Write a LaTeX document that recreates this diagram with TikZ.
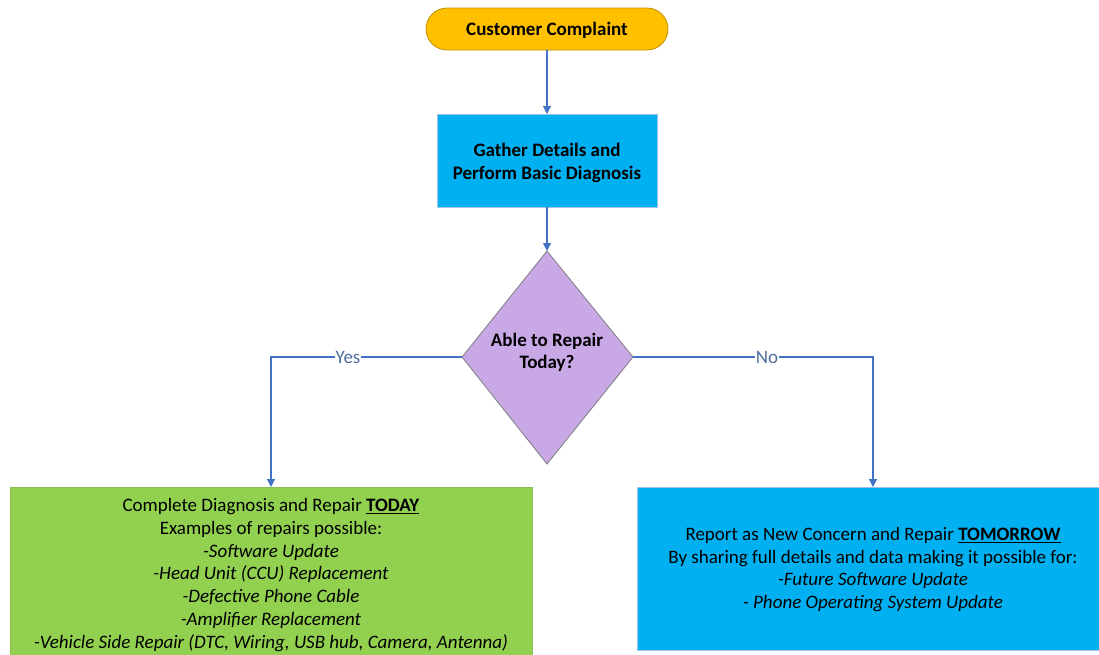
\documentclass[tikz,border=0pt]{standalone}
\usepackage{fontspec}
\setmainfont{Carlito}
\usetikzlibrary{arrows.meta,shapes.geometric}
\definecolor{termfill}{HTML}{FFC000}
\definecolor{termdraw}{HTML}{BF9000}
\definecolor{procblue}{HTML}{00B0F0}
\definecolor{procdraw}{HTML}{9DC3E6}
\definecolor{decfill}{HTML}{C9A8E6}
\definecolor{decdraw}{HTML}{7F7F7F}
\definecolor{greenfill}{HTML}{92D050}
\definecolor{arrowblue}{HTML}{4472C4}
\definecolor{labelblue}{HTML}{4F6FA0}
\tikzset{
  terminal/.style={rounded corners=21pt, fill=termfill, draw=termdraw, line width=0.8pt},
  procbox/.style={fill=procblue, draw=procdraw, line width=0.8pt},
  greenbox/.style={fill=greenfill, draw=greenfill!80!gray, line width=0.8pt},
  decision/.style={fill=decfill, draw=decdraw, line width=0.8pt},
  txt/.style={align=center, font=\fontsize{19}{22.7}\selectfont},
  btxt/.style={align=center, font=\fontsize{19}{22.5}\selectfont\bfseries},
  flow/.style={draw=arrowblue, line width=1.2pt, -{Triangle[width=8pt,length=8pt]}},
  lbl/.style={fill=white, text=labelblue, inner sep=1pt, font=\fontsize{19}{20}\selectfont},
}
\begin{document}
\begin{tikzpicture}[x=1pt,y=-1pt]
\useasboundingbox (0,0) rectangle (1099,654);
% shapes
\draw[terminal] (426,8) rectangle (668,50);
\node[btxt] (cc) at (547,30) {Customer Complaint};
\coordinate (ccb) at (547,50);
\draw[procbox] (437,114) rectangle (657,207);
\node[btxt] (gd) at (547,163) {Gather Details and\\Perform Basic Diagnosis};
\coordinate (gdt) at (547,114);
\coordinate (gdb) at (547,207);
\draw[decision] (547,251) -- (633,357) -- (547,464) -- (462,357) -- cycle;
\coordinate (dt) at (547,251);
\coordinate (dl) at (462,357);
\coordinate (dr) at (633,357);
\node[btxt] (dec) at (547,352.5) {Able to Repair\\Today?};
\draw[greenbox] (10,487) rectangle (532,660);
\coordinate (gt) at (271,487);
\node[txt] (yesbox) at (271,575) {Complete Diagnosis and Repair \underline{\textbf{TODAY}}\\
Examples of repairs possible:\\
\textit{-Software Update}\\
\textit{-Head Unit (CCU) Replacement}\\
\textit{-Defective Phone Cable}\\
\textit{-Amplifier Replacement}\\
\textit{-Vehicle Side Repair (DTC, Wiring, USB hub, Camera, Antenna)}};
\draw[procbox] (637,487) rectangle (1099,650);
\coordinate (bt) at (873,487);
\node[txt] (nobox) at (873,569.5) {Report as New Concern and Repair \underline{\textbf{TOMORROW}}\\
By sharing full details and data making it possible for:\\
\textit{-Future Software Update}\\
\textit{- Phone Operating System Update}};
% connectors
\draw[flow] (ccb) -- (gdt);
\draw[flow] (gdb) -- (dt);
\draw[flow] (dl) -- (271,357) -- (gt);
\draw[flow] (dr) -- (873,357) -- (bt);
\node[lbl] (yes) at (348,357) {Yes};
\node[lbl] (no) at (767,357) {No};
\end{tikzpicture}
\end{document}
